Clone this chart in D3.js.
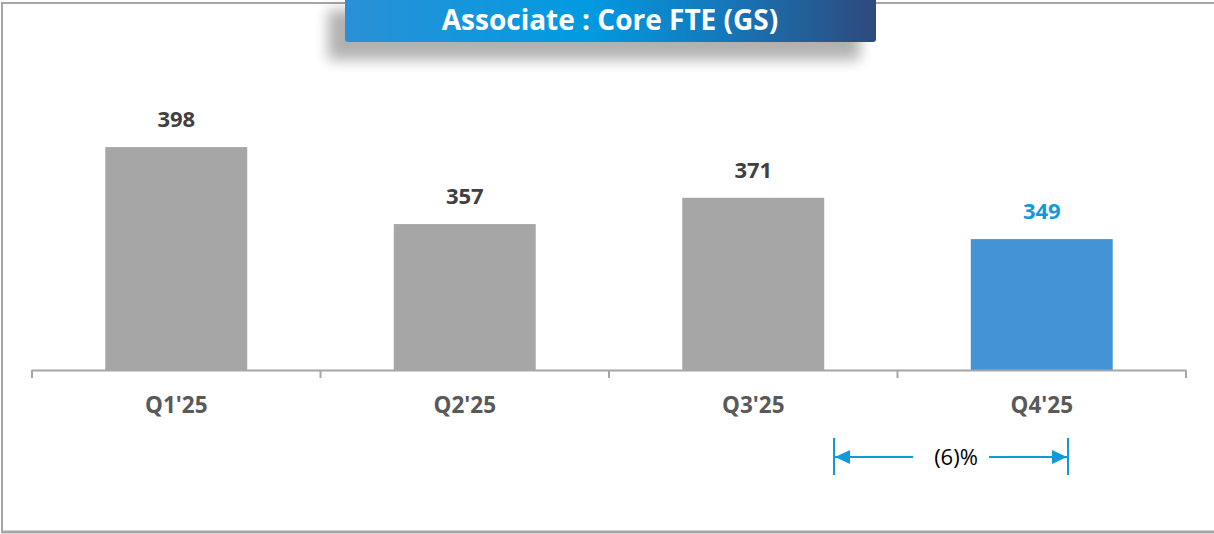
<!DOCTYPE html>
<html>
<head>
<meta charset="utf-8">
<script src="https://cdn.jsdelivr.net/npm/d3@7"></script>
<style>
  html, body { margin: 0; padding: 0; background: #fff; }
  svg { display: block; font-family: "Open Sans", "Noto Sans", sans-serif; }
</style>
</head>
<body>
<svg id="chart"></svg>
<script>
let quarters = ["Q1'25", "Q2'25", "Q3'25", "Q4'25"];
let fte = [398, 357, 371, 349];
let changeLabel = "(6)%";
let title = "Associate : Core FTE (GS)";

let width = 1214, height = 534;
let svg = d3.select("#chart")
    .attr("width", width)
    .attr("height", height);

let defs = svg.append("defs");

let grad = defs.append("linearGradient")
    .attr("id", "titleGrad")
    .attr("x1", "0%").attr("x2", "100%")
    .attr("y1", "0%").attr("y2", "0%");
grad.append("stop").attr("offset", "0%").attr("stop-color", "#2a90d6");
grad.append("stop").attr("offset", "45%").attr("stop-color", "#019be2");
grad.append("stop").attr("offset", "70%").attr("stop-color", "#1479bd");
grad.append("stop").attr("offset", "100%").attr("stop-color", "#2f4a7c");

let blur = defs.append("filter")
    .attr("id", "shadow")
    .attr("x", "-20%").attr("y", "-50%")
    .attr("width", "140%").attr("height", "250%");
blur.append("feGaussianBlur").attr("stdDeviation", 7);

defs.append("marker")
    .attr("id", "arrowHead")
    .attr("viewBox", "0 0 10 10")
    .attr("preserveAspectRatio", "none")
    .attr("refX", 10).attr("refY", 5)
    .attr("markerWidth", 7.5).attr("markerHeight", 7)
    .attr("orient", "auto")
    .append("path")
    .attr("d", "M0,0 L10,5 L0,10 Z")
    .attr("fill", "#119ad9");

// frame
svg.append("path")
    .attr("d", "M2,533 L2,3 L1214,3")
    .attr("fill", "none")
    .attr("stroke", "#a6a6a6")
    .attr("stroke-width", 2);
svg.append("line")
    .attr("x1", 2).attr("x2", 1214)
    .attr("y1", 532).attr("y2", 532)
    .attr("stroke", "#a6a6a6")
    .attr("stroke-width", 3);

// scales
let x = d3.scaleBand()
    .domain(quarters)
    .range([32, 1186])
    .paddingInner(0.508)
    .paddingOuter(0.254);

let y = d3.scaleLinear()
    .domain([279.3, 420])
    .range([370, 370 - 1.878 * (420 - 279.3)]);

// bars
svg.append("g")
    .selectAll("rect")
    .data(fte)
    .join("rect")
    .attr("x", (d, i) => x(quarters[i]))
    .attr("y", d => y(d))
    .attr("width", x.bandwidth())
    .attr("height", d => y.range()[0] - y(d))
    .attr("fill", (d, i) => i === fte.length - 1 ? "#4493d6" : "#a6a6a6");

// value labels
svg.append("g")
    .selectAll("text")
    .data(fte)
    .join("text")
    .attr("x", (d, i) => x(quarters[i]) + x.bandwidth() / 2)
    .attr("y", d => y(d) - 20)
    .attr("text-anchor", "middle")
    .attr("font-size", 22)
    .attr("font-weight", "bold")
    .attr("fill", (d, i) => i === fte.length - 1 ? "#0f9ad9" : "#404040")
    .text(d => d);

// x axis
let axisX = d3.scalePoint().domain(d3.range(quarters.length + 1)).range([32, 1186]);
let axis = svg.append("g");
axis.append("line")
    .attr("x1", 32).attr("x2", 1186)
    .attr("y1", 370.5).attr("y2", 370.5)
    .attr("stroke", "#a6a6a6")
    .attr("stroke-width", 2);
axis.selectAll(".tick")
    .data(axisX.domain())
    .join("line")
    .attr("x1", d => axisX(d)).attr("x2", d => axisX(d))
    .attr("y1", 370).attr("y2", 378)
    .attr("stroke", "#a6a6a6")
    .attr("stroke-width", 2);
axis.selectAll("text")
    .data(quarters)
    .join("text")
    .attr("x", d => x(d) + x.bandwidth() / 2)
    .attr("y", 413)
    .attr("text-anchor", "middle")
    .attr("font-size", 22.5)
    .attr("font-weight", "bold")
    .attr("fill", "#595959")
    .text(d => d);

// change annotation between Q3 and Q4
let ax1 = 834, ax2 = 1068, ay = 457;
let mid = (ax1 + ax2) / 2;
let ann = svg.append("g").attr("stroke", "#119ad9").attr("stroke-width", 2);
ann.append("line").attr("x1", ax1).attr("x2", ax1).attr("y1", 438).attr("y2", 475);
ann.append("line").attr("x1", ax2).attr("x2", ax2).attr("y1", 438).attr("y2", 475);
ann.append("line")
    .attr("x1", mid - 38).attr("x2", ax1 + 1)
    .attr("y1", ay).attr("y2", ay)
    .attr("marker-end", "url(#arrowHead)");
ann.append("line")
    .attr("x1", mid + 38).attr("x2", ax2 - 1)
    .attr("y1", ay).attr("y2", ay)
    .attr("marker-end", "url(#arrowHead)");
svg.append("text")
    .attr("x", mid + 5)
    .attr("y", ay + 8)
    .attr("text-anchor", "middle")
    .attr("font-size", 22)
    .attr("fill", "#000")
    .text(changeLabel);

// title box with shadow
svg.append("rect")
    .attr("x", 328).attr("y", 10)
    .attr("width", 532).attr("height", 50)
    .attr("fill", "#000")
    .attr("opacity", 0.3)
    .attr("filter", "url(#shadow)");
svg.append("rect")
    .attr("x", 345).attr("y", -10)
    .attr("width", 531).attr("height", 52)
    .attr("rx", 3)
    .attr("fill", "url(#titleGrad)");
svg.append("text")
    .attr("x", 610)
    .attr("y", 30)
    .attr("text-anchor", "middle")
    .attr("font-size", 28)
    .attr("font-weight", "bold")
    .attr("fill", "#fff")
    .text(title);
</script>
</body>
</html>
